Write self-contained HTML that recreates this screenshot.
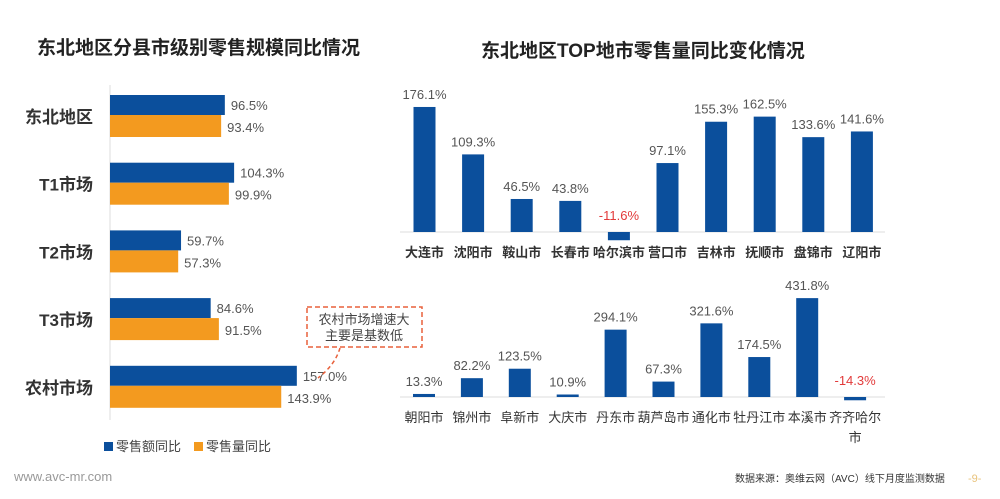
<!DOCTYPE html>
<html><head><meta charset="utf-8">
<style>
body{margin:0;background:#fff;font-family:"Liberation Sans","Noto Sans CJK SC",sans-serif;}
#wrap{position:relative;width:1000px;height:499px;overflow:hidden;}
svg text{font-family:"Liberation Sans","Noto Sans CJK SC",sans-serif;}
</style></head>
<body>
<div id="wrap">
<svg id="svg" width="1000" height="499" xmlns="http://www.w3.org/2000/svg">
<text x="37" y="54" font-size="19" font-weight="bold" fill="#222">东北地区分县市级别零售规模同比情况</text>
<text x="481" y="57" font-size="19" font-weight="bold" fill="#222">东北地区TOP地市零售量同比变化情况</text>
<g id="left"></g>
<g id="top"></g>
<g id="bot"></g>
<rect x="307" y="307" width="115" height="40" fill="none" stroke="#e8613c" stroke-width="1.5" stroke-dasharray="5,3"/>
<text x="364" y="324" font-size="13" fill="#444" text-anchor="middle">农村市场增速大</text>
<text x="364" y="340" font-size="13" fill="#444" text-anchor="middle">主要是基数低</text>
<path d="M340 348 Q335 365 318 378" fill="none" stroke="#e8613c" stroke-width="1.5" stroke-dasharray="4,3"/>
<rect x="104" y="442" width="9" height="9" fill="#0b4f9c"/>
<text x="116" y="451" font-size="13" fill="#444">零售额同比</text>
<rect x="194" y="442" width="9" height="9" fill="#f39a1f"/>
<text x="206" y="451" font-size="13" fill="#444">零售量同比</text>
<text x="14" y="481" font-size="13" fill="#999">www.avc-mr.com</text>
<text x="735" y="482" font-size="10" fill="#333">数据来源：奥维云网（AVC）线下月度监测数据</text>
<text x="968" y="482" font-size="11" fill="#e8c27a">-9-</text>
</svg>
</div>
<script>
const leftCats=["东北地区","T1市场","T2市场","T3市场","农村市场"];
const leftAmount=[96.5,104.3,59.7,84.6,157.0];
const leftVolume=[93.4,99.9,57.3,91.5,143.9];
const topCats=["大连市","沈阳市","鞍山市","长春市","哈尔滨市","营口市","吉林市","抚顺市","盘锦市","辽阳市"];
const topVals=[176.1,109.3,46.5,43.8,-11.6,97.1,155.3,162.5,133.6,141.6];
const botCats=["朝阳市","锦州市","阜新市","大庆市","丹东市","葫芦岛市","通化市","牡丹江市","本溪市","齐齐哈尔市"];
const botVals=[13.3,82.2,123.5,10.9,294.1,67.3,321.6,174.5,431.8,-14.3];
const NS="http://www.w3.org/2000/svg";
function mk(p,tag,a,txt){const e=document.createElementNS(NS,tag);for(const k in a)e.setAttribute(k,a[k]);if(txt!==undefined)e.textContent=txt;p.appendChild(e);return e;}
const L=document.getElementById('left');
const lx=v=>110+v*1.19, gy=i=>95+i*67.7;
let ax=mk(L,'line',{x1:110,y1:85,x2:110,y2:420,stroke:'#ddd'});

leftCats.forEach((c,i)=>{
 const y=gy(i);
 let t=mk(L,'text',{x:93,y:y+28,'font-size':17,'font-weight':'bold',fill:'#333','text-anchor':'end'},c);
 
 let b=mk(L,'rect',{x:110,y:y,width:lx(leftAmount[i])-110,height:20,fill:'#0b4f9c'});
 
 let o=mk(L,'rect',{x:110,y:y+20,width:lx(leftVolume[i])-110,height:22,fill:'#f39a1f'});
 
 let l1=mk(L,'text',{x:lx(leftAmount[i])+6,y:y+15,'font-size':13,fill:'#555'},leftAmount[i].toFixed(1)+'%');
 
 let l2=mk(L,'text',{x:lx(leftVolume[i])+6,y:y+37,'font-size':13,fill:'#555'},leftVolume[i].toFixed(1)+'%');
 
});
function cols(G,cats,vals,base,scale,x0,step,wrapLast,bold){
 let a=mk(G,'line',{x1:400,y1:base,x2:885,y2:base,stroke:'#ddd'});
 
 cats.forEach((c,i)=>{
  const cx=x0+i*step,v=vals[i],h=Math.abs(v)*scale;
  const y=v>=0?base-h:base;
  let r=mk(G,'rect',{x:cx-11,y:y,width:22,height:Math.max(h,2),fill:'#0b4f9c'});
  
  const ly=v>=0?base-h-8:base-12;
  let t=mk(G,'text',{x:cx,y:ly,'font-size':13,fill:v<0?'#e23a3a':'#555','text-anchor':'middle'},v.toFixed(1)+'%');
  
  if(wrapLast&&c.length>4){
   let t1=mk(G,'text',{x:cx,y:base+25,'font-size':13,fill:'#333','text-anchor':'middle'},c.slice(0,4));
   
   let t2=mk(G,'text',{x:cx,y:base+45,'font-size':13,fill:'#333','text-anchor':'middle'},c.slice(4));
   
  }else{
   let t1=mk(G,'text',{x:cx,y:base+25,'font-size':13,'font-weight':bold?'bold':'normal',fill:'#333','text-anchor':'middle'},c);
   
  }
 });
}
cols(document.getElementById('top'),topCats,topVals,232,0.71,424.5,48.6,false,true);
cols(document.getElementById('bot'),botCats,botVals,397,0.229,424,47.9,true,false);
</script>
</body></html>
